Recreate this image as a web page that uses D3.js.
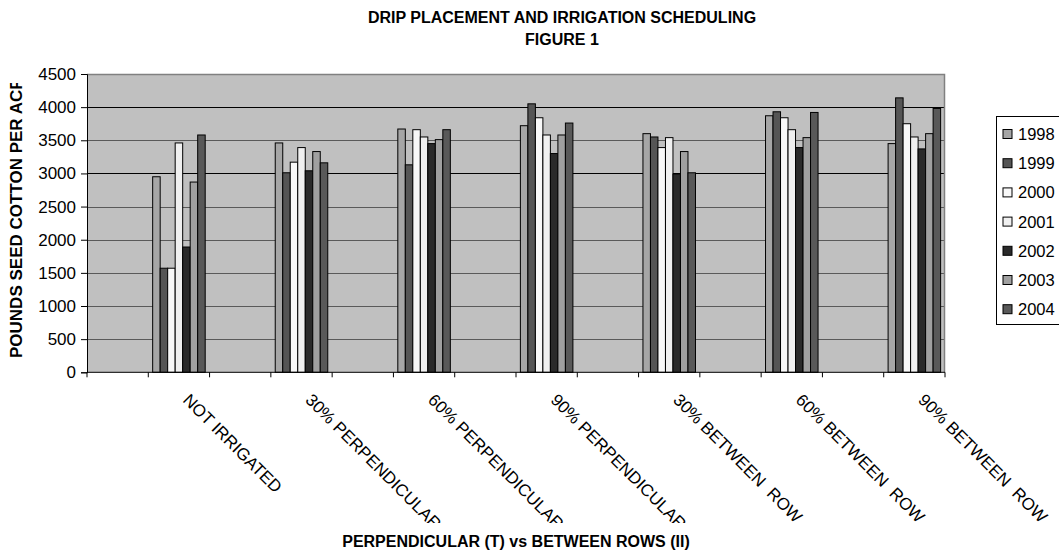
<!DOCTYPE html>
<html>
<head>
<meta charset="utf-8">
<script src="https://cdn.jsdelivr.net/npm/d3@7"></script>
<style>
  html, body { margin: 0; padding: 0; background: #fff; }
  svg { display: block; font-family: Arial, "Liberation Sans", sans-serif; }
</style>
</head>
<body>
<div id="chart"></div>
<script>
// Category slots: the sheet has a blank row between each treatment
const categories = ["", "NOT IRRIGATED", "", "30% PERPENDICULAR", "", "60% PERPENDICULAR", "",
  "90% PERPENDICULAR", "", "30% BETWEEN  ROW", "", "60% BETWEEN  ROW", "", "90% BETWEEN  ROW"];

const years = ["1998", "1999", "2000", "2001", "2002", "2003", "2004"];

// yields per treatment, in order of the non-blank categories
const y1998 = [2950, 3460, 3670, 3720, 3600, 3870, 3450];
const y1999 = [1570, 3010, 3130, 4050, 3550, 3930, 4140];
const y2000 = [1570, 3170, 3660, 3840, 3390, 3840, 3750];
const y2001 = [3460, 3390, 3550, 3580, 3540, 3660, 3550];
const y2002 = [1890, 3040, 3450, 3300, 2990, 3390, 3370];
const y2003 = [2870, 3330, 3510, 3580, 3330, 3540, 3600];
const y2004 = [3580, 3160, 3660, 3760, 3010, 3920, 3980];

const yTicks = [0, 500, 1000, 1500, 2000, 2500, 3000, 3500, 4000, 4500];

const series = [y1998, y1999, y2000, y2001, y2002, y2003, y2004];
const colors = ["#a6a6a6", "#555555", "#f8f8f8", "#f0f0f0", "#2a2a2a", "#a0a0a0", "#595959"];

const W = 1059, H = 550;
const plot = { left: 87, right: 945, top: 74, bottom: 372.3 };

const svg = d3.select("#chart").append("svg")
  .attr("width", W).attr("height", H);

const x = d3.scaleBand()
  .domain(d3.range(categories.length))
  .range([plot.left, plot.right]);

const y = d3.scaleLinear()
  .domain([0, 4500])
  .range([plot.bottom, plot.top]);

// bars: 7 per cluster, cluster about 86% of the slot
const clusterW = x.bandwidth() * 0.857;
const inner = d3.scaleBand().domain(years).range([-clusterW / 2, clusterW / 2]);

// plot area
svg.append("rect")
  .attr("x", plot.left).attr("y", plot.top)
  .attr("width", plot.right - plot.left).attr("height", plot.bottom - plot.top)
  .attr("fill", "#c0c0c0");

// gridlines
svg.append("g").selectAll("line")
  .data(yTicks.filter(d => d > 0 && d < 4500))
  .join("line")
  .attr("x1", plot.left).attr("x2", plot.right)
  .attr("y1", d => Math.round(y(d)) + 0.5).attr("y2", d => Math.round(y(d)) + 0.5)
  .attr("stroke", d => (d === 3000 || d === 4000) ? "#000" : "#5a5a5a")
  .attr("stroke-width", 1);

// plot border (top/right grey)
svg.append("path")
  .attr("d", `M${plot.left},${plot.top + 0.5}H${plot.right - 0.5}V${plot.bottom}`)
  .attr("fill", "none").attr("stroke", "#808080").attr("stroke-width", 1.5);

// bars
const realIdx = d3.range(categories.length).filter(i => categories[i] !== "");
const barData = [];
realIdx.forEach((ci, k) => {
  years.forEach((yr, s) => {
    barData.push({ ci, yr, s, v: series[s][k] });
  });
});

svg.append("g").selectAll("rect")
  .data(barData)
  .join("rect")
  .attr("x", d => x(d.ci) + x.bandwidth() / 2 + inner(d.yr))
  .attr("y", d => y(d.v))
  .attr("width", inner.bandwidth())
  .attr("height", d => plot.bottom - y(d.v))
  .attr("fill", d => colors[d.s])
  .attr("stroke", "#000")
  .attr("stroke-width", 1);

// y axis
const yAxis = d3.axisLeft(y).tickValues(yTicks).tickFormat(d3.format("d")).tickSize(6).tickPadding(5);
const gy = svg.append("g")
  .attr("transform", `translate(${plot.left},0)`)
  .call(yAxis);
gy.select(".domain").attr("stroke", "#000");
gy.selectAll(".tick line").attr("stroke", "#000");
gy.selectAll(".tick text")
  .attr("font-size", 17).attr("fill", "#000")
  .attr("font-family", "Arial, 'Liberation Sans', sans-serif");

// x axis line and ticks at slot boundaries
svg.append("line")
  .attr("x1", plot.left).attr("x2", plot.right)
  .attr("y1", plot.bottom).attr("y2", plot.bottom)
  .attr("stroke", "#000");
svg.append("g").selectAll("line")
  .data(d3.range(categories.length + 1))
  .join("line")
  .attr("x1", i => plot.left + i * x.step()).attr("x2", i => plot.left + i * x.step())
  .attr("y1", plot.bottom).attr("y2", plot.bottom + 5)
  .attr("stroke", "#000");

// category labels, rotated, clipped at the bottom
svg.append("clipPath").attr("id", "labclip")
  .append("rect").attr("x", 0).attr("y", plot.bottom).attr("width", W).attr("height", 523 - plot.bottom);

svg.append("g").attr("clip-path", "url(#labclip)")
  .selectAll("text")
  .data(realIdx)
  .join("text")
  .attr("transform", i => `translate(${x(i) + x.bandwidth() / 2 + 3},401) rotate(45)`)
  .attr("font-size", 17)
  .attr("fill", "#000")
  .style("white-space", "pre")
  .text(i => categories[i]);

// y axis title, clipped at the top
svg.append("clipPath").attr("id", "ytclip")
  .append("rect").attr("x", 0).attr("y", 83).attr("width", 40).attr("height", 300);

svg.append("g").attr("clip-path", "url(#ytclip)")
  .append("text")
  .attr("transform", "translate(21.5,358) rotate(-90)")
  .attr("font-size", 17).attr("font-weight", "bold")
  .text("POUNDS SEED COTTON PER ACRE");

// x axis title
svg.append("text")
  .attr("x", (plot.left + plot.right) / 2).attr("y", 547)
  .attr("text-anchor", "middle")
  .attr("font-size", 16).attr("font-weight", "bold")
  .text("PERPENDICULAR (T) vs BETWEEN ROWS (II)");

// chart title
const title = svg.append("text")
  .attr("text-anchor", "middle")
  .attr("font-size", 16).attr("font-weight", "bold");
title.append("tspan").attr("x", 562).attr("y", 23).text("DRIP PLACEMENT AND IRRIGATION SCHEDULING");
title.append("tspan").attr("x", 562).attr("y", 45).text("FIGURE 1");

// legend (box runs off the right edge)
const lg = svg.append("g");
lg.append("rect")
  .attr("x", 996.5).attr("y", 116.5)
  .attr("width", 80).attr("height", 208)
  .attr("fill", "#fff").attr("stroke", "#000").attr("stroke-width", 1);

const items = lg.selectAll("g.item")
  .data(years)
  .join("g")
  .attr("class", "item")
  .attr("transform", (d, i) => `translate(0,${134 + i * 29.2})`);

items.append("rect")
  .attr("x", 1003).attr("y", -4.5)
  .attr("width", 9).attr("height", 9)
  .attr("fill", (d, i) => colors[i])
  .attr("stroke", "#000").attr("stroke-width", 1);

items.append("text")
  .attr("x", 1018).attr("dy", "0.36em")
  .attr("font-size", 16.5)
  .text(d => d);
</script>
</body>
</html>
